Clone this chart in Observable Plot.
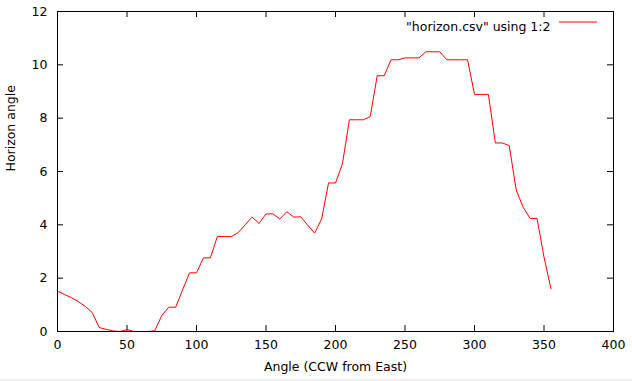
<!DOCTYPE html>
<html>
<head>
<meta charset="utf-8">
<script src="https://cdn.jsdelivr.net/npm/d3@7"></script>
<script src="https://cdn.jsdelivr.net/npm/@observablehq/plot@0.6"></script>
<style>
  html, body { margin: 0; padding: 0; background: #efefef; }
  #chart { width: 632px; background: #fff; }
  svg { display: block; }
</style>
</head>
<body>
<div id="chart"></div>
<script>
const angles = [
  0, 5, 10, 15, 20, 25, 30, 35, 40, 45, 50, 55, 60, 65, 70, 75, 80, 85, 90, 95,
  100, 105, 110, 115, 120, 125, 130, 135, 140, 145, 150, 155, 160, 165, 170, 175,
  180, 185, 190, 195, 200, 205, 210, 215, 220, 225, 230, 235, 240, 245, 250, 255,
  260, 265, 270, 275, 280, 285, 290, 295, 300, 305, 310, 315, 320, 325, 330, 335,
  340, 345, 350, 355
];
const horizon = [
  1.51, 1.39, 1.27, 1.12, 0.94, 0.71, 0.15, 0.08, 0.02, 0.0, 0.07, 0.0, 0.0, 0.0, 0.03, 0.6, 0.91, 0.91, 1.56, 2.2,
  2.2, 2.76, 2.76, 3.56, 3.56, 3.56, 3.71, 4.0, 4.29, 4.05, 4.41, 4.41, 4.22, 4.49, 4.29, 4.3,
  3.99, 3.69, 4.22, 5.57, 5.57, 6.29, 7.94, 7.94, 7.94, 8.06, 9.59, 9.59, 10.19, 10.19, 10.26, 10.26,
  10.26, 10.49, 10.49, 10.49, 10.19, 10.19, 10.19, 10.19, 8.89, 8.89, 8.89, 7.07, 7.07, 6.97, 5.31, 4.66,
  4.24, 4.24, 2.79, 1.6
];
const xTicks = [0, 50, 100, 150, 200, 250, 300, 350, 400];
const yTicks = [0, 2, 4, 6, 8, 10, 12];
const xTitle = "Angle (CCW from East)";
const yTitle = "Horizon angle";
const legendLabel = "\"horizon.csv\" using 1:2";

const data = angles.map((a, i) => ({angle: a, horizon: horizon[i]}));

const W = 632, H = 379;
const mL = 57, mR = 19, mT = 11, mB = 48;
const fw = W - mL - mR, fh = H - mT - mB;
const tick = 6;
const fs = 12.5;

const plot = Plot.plot({
  width: W,
  height: H,
  marginLeft: mL,
  marginRight: mR,
  marginTop: mT,
  marginBottom: mB,
  style: {fontFamily: "DejaVu Sans", fontSize: fs + "px", color: "#000", background: "#fff"},
  x: {domain: [0, 400], ticks: xTicks, tickSize: 0, tickPadding: 9, label: null},
  y: {domain: [0, 12], ticks: yTicks, tickSize: 0, tickPadding: 10, label: null},
  marks: [
    Plot.tickX(xTicks, {x: d => d, insetTop: fh - tick, stroke: "#000"}),
    Plot.tickX(xTicks, {x: d => d, insetBottom: fh - tick, stroke: "#000"}),
    Plot.tickY(yTicks, {y: d => d, insetRight: fw - tick, stroke: "#000"}),
    Plot.tickY(yTicks, {y: d => d, insetLeft: fw - tick, stroke: "#000"}),
    Plot.line(data, {x: "angle", y: "horizon", stroke: "#ff0000", strokeWidth: 1}),
    Plot.frame({stroke: "#000"}),
    Plot.text([xTitle], {frameAnchor: "bottom", dy: 39, fontSize: fs, fill: "#000"}),
    Plot.text([yTitle], {frameAnchor: "left", dx: -47, rotate: -90, fontSize: fs, fill: "#000"}),
    Plot.text([legendLabel], {frameAnchor: "top-right", textAnchor: "end", dx: -63, dy: 11, fontSize: fs, fill: "#000"})
  ]
});

// legend sample line
const svg = d3.select(plot);
svg.append("line")
  .attr("x1", W - mR - 54).attr("x2", W - mR - 16)
  .attr("y1", mT + 11).attr("y2", mT + 11)
  .attr("stroke", "#ff0000").attr("stroke-width", 1);

document.getElementById("chart").appendChild(plot);
</script>
</body>
</html>
